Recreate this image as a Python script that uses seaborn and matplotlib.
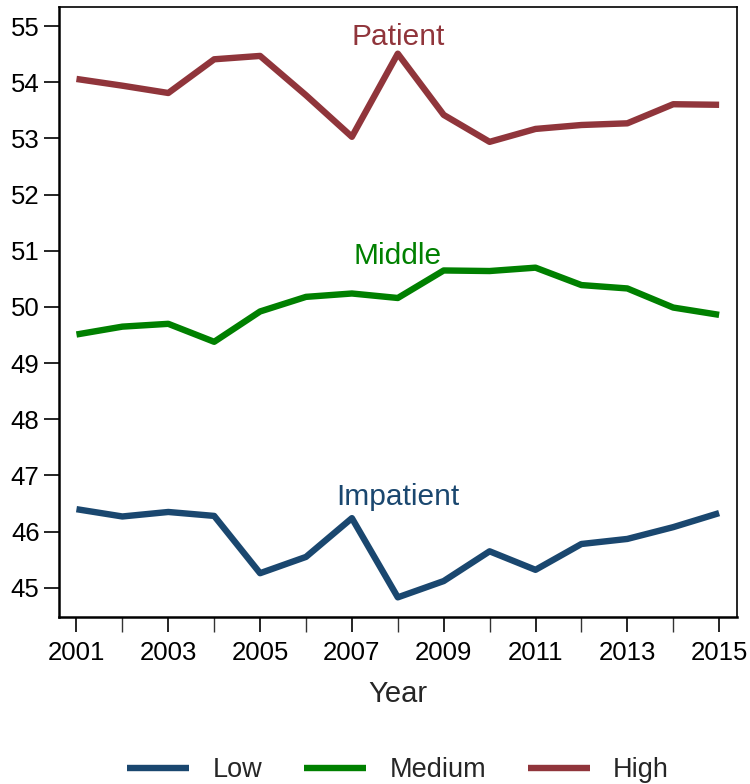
import numpy as np
import pandas as pd
import matplotlib
matplotlib.use("Agg")
import matplotlib.pyplot as plt
import seaborn as sns

years = list(range(2001, 2016))
low = [46.40, 46.27, 46.35, 46.28, 45.26, 45.55, 46.24, 44.83, 45.12, 45.65, 45.32, 45.78, 45.87, 46.08, 46.33]
medium = [49.51, 49.65, 49.70, 49.38, 49.92, 50.18, 50.24, 50.16, 50.65, 50.64, 50.70, 50.39, 50.33, 49.99, 49.86]
high = [54.06, 53.94, 53.81, 54.41, 54.47, 53.77, 53.03, 54.51, 53.42, 52.94, 53.17, 53.24, 53.27, 53.61, 53.60]
groups = ["Low", "Medium", "High"]
colors = ["#1a476f", "#008000", "#90353b"]
labels = ["Impatient", "Middle", "Patient"]
label_y = [46.62, 50.91, 54.80]

df = pd.DataFrame({
    "Year": years * 3,
    "value": low + medium + high,
    "group": [g for g in groups for _ in years],
})

sns.set_style("ticks")
plt.rcParams["font.family"] = ["Liberation Sans", "DejaVu Sans"]
plt.rcParams["lines.solid_capstyle"] = "butt"

fig = plt.figure(figsize=(7.5, 7.84), dpi=100)
ax = fig.add_axes([0.0787, 0.213, 0.904, 0.778])

sns.lineplot(data=df, x="Year", y="value", hue="group", hue_order=groups,
             palette=colors, linewidth=4.6, ax=ax, legend=True)

for txt, yv, c in zip(labels, label_y, colors):
    ax.text(2008, yv, txt, color=c, ha="center", va="center", fontsize=21.5)

ax.set_xlim(2000.62, 2015.39)
ax.set_ylim(44.48, 55.34)
ax.set_xticks(range(2001, 2016, 2))
ax.set_xticks(range(2002, 2015, 2), minor=True)
ax.set_yticks(range(45, 56))
ax.tick_params(axis="both", which="major", labelsize=18.5, length=11, width=1.2, colors="black", direction="out")
ax.tick_params(axis="x", which="major", pad=6)
ax.tick_params(axis="y", which="major", pad=3)
ax.tick_params(axis="x", which="minor", length=11, width=1.0, direction="out", color="#333333")
ax.set_xlabel("Year", fontsize=21, labelpad=11)
ax.set_ylabel("")
for s in ["left", "bottom"]:
    ax.spines[s].set_linewidth(1.8)
    ax.spines[s].set_color("black")
for s in ["top", "right"]:
    ax.spines[s].set_visible(True)
    ax.spines[s].set_linewidth(1.2)
    ax.spines[s].set_color("black")

ax.legend(loc="center", bbox_to_anchor=(0.5, -0.251), ncol=3, frameon=False,
          fontsize=19.5, handlelength=2.3, columnspacing=1.55, handletextpad=0.85)

fig.savefig("out.png", dpi=100)
